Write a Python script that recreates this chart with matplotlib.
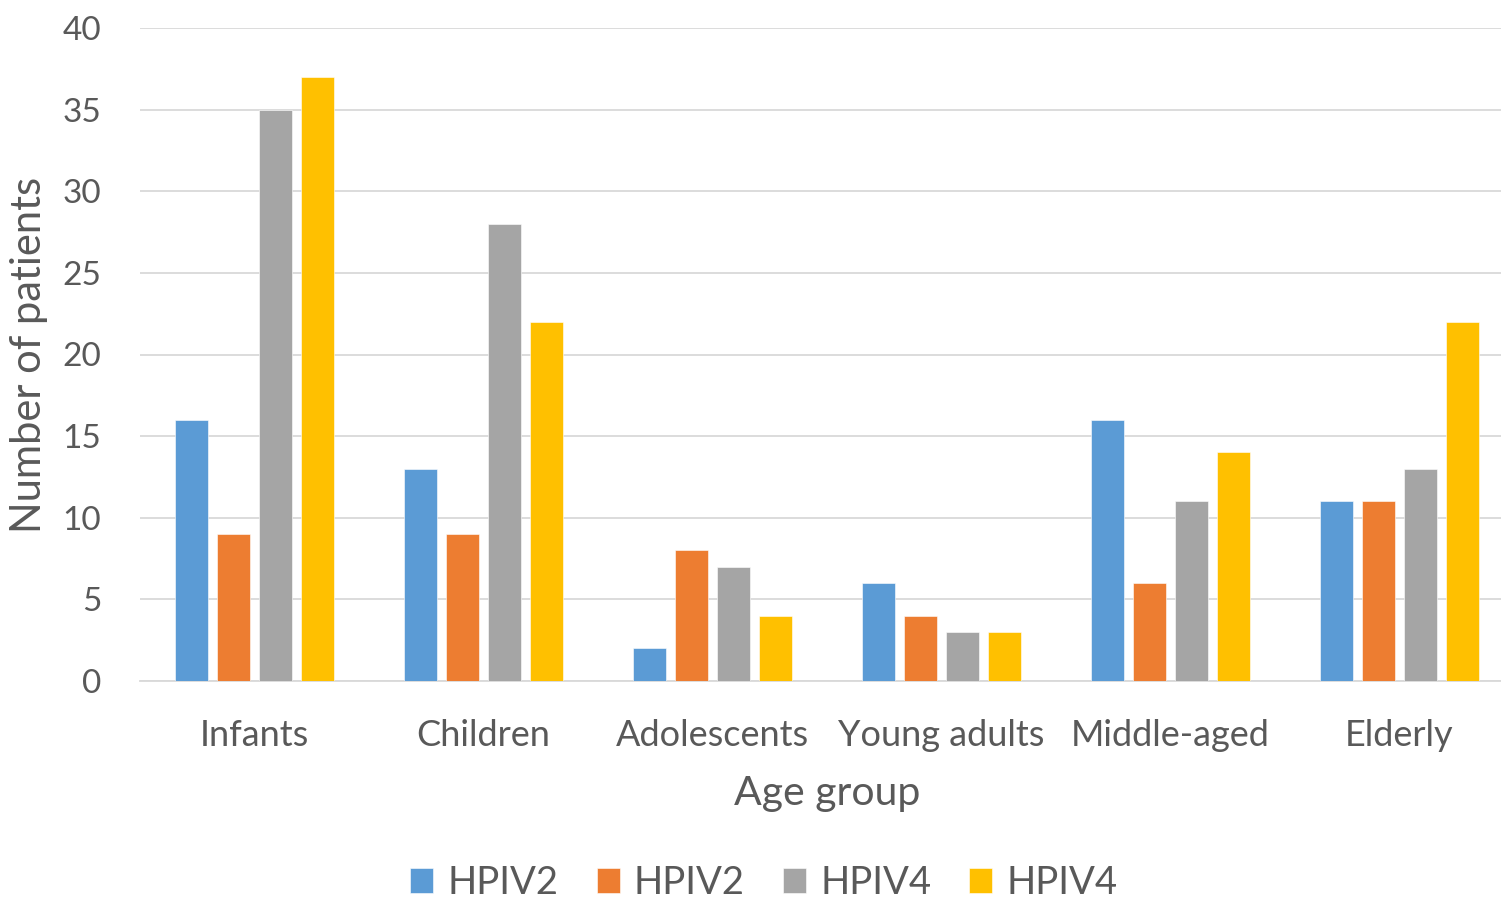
import matplotlib
matplotlib.use("Agg")
import matplotlib.pyplot as plt
import numpy as np

# Patient counts by age group for each virus type
age_groups = ["Infants", "Children", "Adolescents", "Young adults", "Middle-aged", "Elderly"]
series_labels = ["HPIV2", "HPIV2", "HPIV4", "HPIV4"]
series_a = [16, 13, 2, 6, 16, 11]
series_b = [9, 9, 8, 4, 6, 11]
series_c = [35, 28, 7, 3, 11, 13]
series_d = [37, 22, 4, 3, 14, 22]
y_ticks = [0, 5, 10, 15, 20, 25, 30, 35, 40]

colors = ["#5B9BD5", "#ED7D31", "#A5A5A5", "#FFC000"]
text_color = "#595959"

plt.rcParams["font.family"] = ["Lato", "DejaVu Sans"]

fig = plt.figure(figsize=(15.01, 9), dpi=100)
ax_left, ax_width = 140, 1374
ax = fig.add_axes([ax_left / 1501, 1 - 681 / 900, ax_width / 1501, (681 - 28) / 900])

x = np.arange(len(age_groups))
bar_w = 0.144
pitch = 0.183
all_series = [series_a, series_b, series_c, series_d]
for i, vals in enumerate(all_series):
    offs = (i - 1.5) * pitch
    ax.bar(x + offs, vals, width=bar_w, color=colors[i], label=series_labels[i],
           zorder=3, edgecolor="white", linewidth=0.4)

ax.set_xlim(-0.5, len(age_groups) - 0.5)
ax.set_ylim(0, 40)
ax.set_yticks(y_ticks)
ax.set_xticks(x)
ax.set_xticklabels(age_groups)
ax.grid(axis="y", color="#D9D9D9", linewidth=1.3, zorder=0)
ax.tick_params(axis="both", length=0, colors=text_color)
ax.tick_params(axis="x", labelsize=26, pad=27)
ax.tick_params(axis="y", labelsize=24, pad=28)
for s in ["top", "right", "left"]:
    ax.spines[s].set_visible(False)
ax.spines["bottom"].set_color("#D9D9D9")
ax.spines["bottom"].set_linewidth(1.3)

ax.set_xlabel("Age group", fontsize=29.5, color=text_color, labelpad=17)
ax.set_ylabel("Number of patients", fontsize=30, color=text_color)
ax.yaxis.set_label_coords((48 - ax_left) / ax_width, 0.5)

leg = fig.legend(loc="center", bbox_to_anchor=(764 / 1501, 1 - 883 / 900), ncol=4,
                 frameon=False, fontsize=27.5, handlelength=0.6, handleheight=0.6,
                 columnspacing=1.0, handletextpad=0.37)
for t in leg.get_texts():
    t.set_color(text_color)

fig.savefig("out.png", dpi=100)
